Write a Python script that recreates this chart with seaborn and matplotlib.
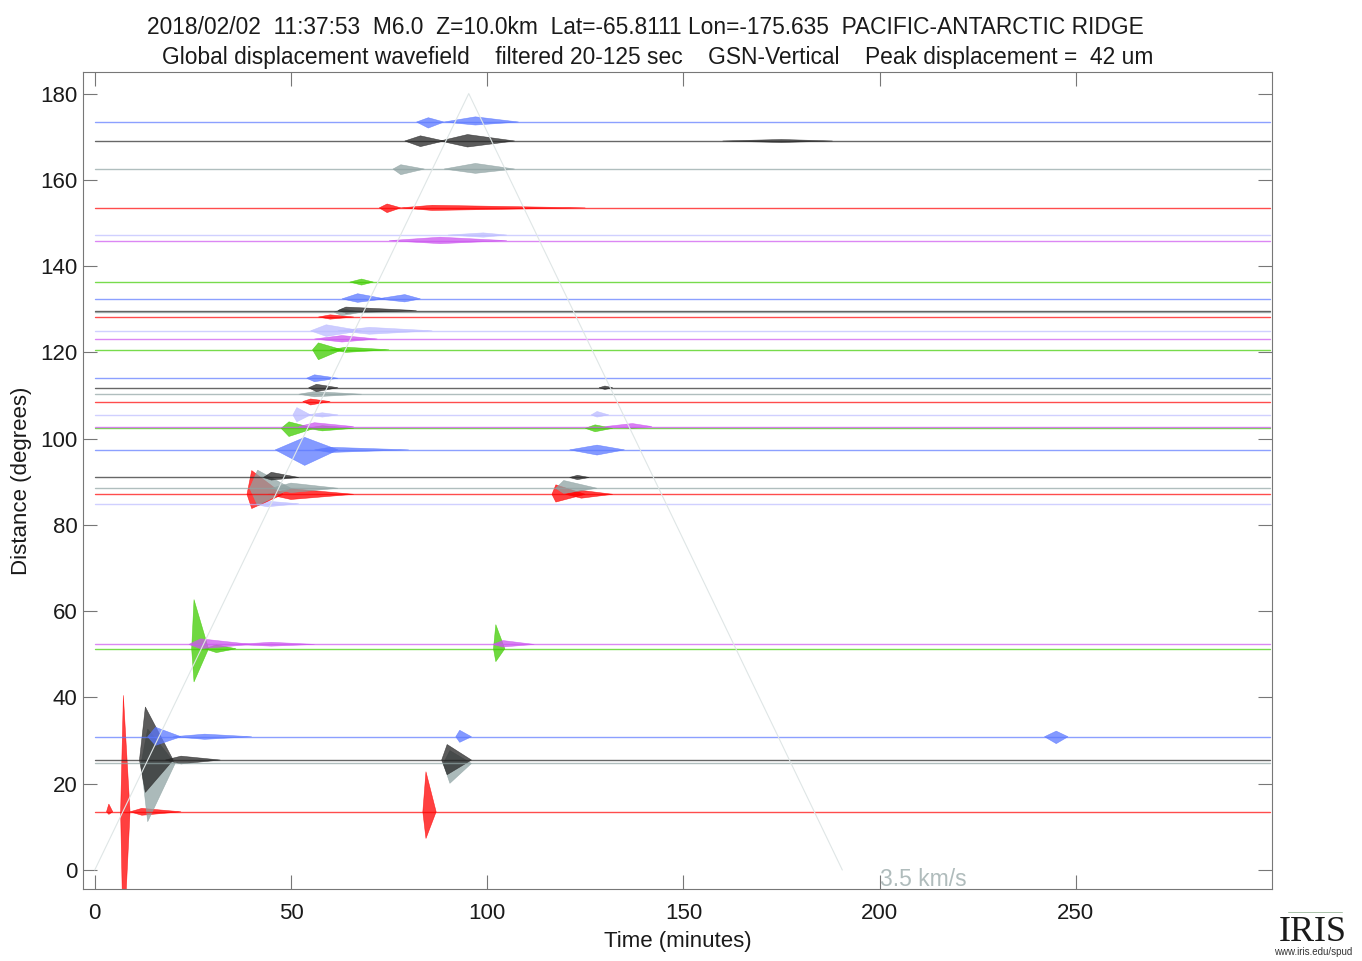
import matplotlib
matplotlib.use("Agg")
import matplotlib.pyplot as plt
import seaborn as sns
import pandas as pd
import numpy as np

# station traces, bottom to top: distance (deg) and colour
trace_dist = [13.5, 24.7, 25.5, 30.9, 51.3, 52.3, 84.9, 87.1, 88.5, 91.0,
              97.4, 102.4, 102.8, 105.5, 108.6, 110.3, 111.8, 114.0, 120.6, 123.1,
              125.0, 128.2, 129.3, 129.7, 132.4, 136.3, 145.9, 147.2, 153.5, 162.5,
              169.0, 173.4]
trace_color = ["red", "grey", "black", "blue", "green", "violet", "lavender", "red",
               "grey", "black", "blue", "green", "violet", "lavender", "red", "grey",
               "black", "blue", "green", "violet", "lavender", "red", "grey", "black",
               "blue", "green", "violet", "lavender", "red", "grey", "black", "blue"]
palette = {"red": "#ff0000", "grey": "#8fa3a3", "black": "#262626", "blue": "#5b78ff",
           "green": "#3fcc00", "violet": "#cc55f0", "lavender": "#bcbcff"}

# wave packets:
# (trace index, start, peak, end [minutes], amplitude up, amplitude down [deg])
packets = [
    (0, 3.0, 3.6, 4.6, 1.8, 0.6),
    (0, 6.6, 7.3, 9.0, 27.0, 32.0),
    (0, 9.0, 12.0, 22.0, 0.8, 0.8),
    (0, 83.6, 84.4, 87.0, 9.3, 6.2),
    (1, 11.8, 13.5, 20.5, 8.0, 13.5),
    (1, 88.8, 90.5, 96.0, 3.0, 4.6),
    (2, 11.4, 12.9, 20.0, 12.3, 7.5),
    (2, 18.0, 22.0, 32.0, 0.9, 0.9),
    (2, 88.4, 89.8, 96.0, 3.6, 3.4),
    (3, 13.5, 15.5, 22.0, 2.2, 2.0),
    (3, 20.0, 28.0, 40.0, 0.6, 0.6),
    (3, 92.0, 93.0, 96.0, 1.5, 1.3),
    (3, 242.0, 245.0, 248.0, 1.3, 1.6),
    (4, 24.7, 25.3, 29.0, 11.4, 7.7),
    (4, 28.0, 31.0, 36.0, 0.9, 0.9),
    (4, 101.6, 102.2, 104.5, 5.6, 3.0),
    (5, 24.0, 27.0, 40.0, 1.3, 1.0),
    (5, 36.0, 45.0, 56.0, 0.5, 0.4),
    (5, 101.5, 104.0, 112.0, 0.9, 0.6),
    (6, 40.0, 44.0, 52.0, 0.6, 0.7),
    (7, 38.8, 40.0, 48.0, 5.5, 3.3),
    (7, 44.0, 50.0, 66.0, 1.3, 1.2),
    (7, 116.5, 117.5, 125.0, 2.2, 1.8),
    (7, 120.0, 124.0, 132.0, 0.9, 0.9),
    (8, 39.5, 41.5, 50.0, 4.2, 4.0),
    (8, 45.0, 50.0, 62.0, 1.2, 1.0),
    (8, 117.5, 119.5, 128.0, 1.8, 1.2),
    (9, 43.0, 45.0, 52.0, 1.2, 0.6),
    (9, 121.0, 123.0, 126.0, 0.5, 0.5),
    (10, 46.0, 53.5, 62.0, 2.9, 3.6),
    (10, 56.0, 60.0, 80.0, 0.6, 0.6),
    (10, 121.0, 128.0, 135.0, 1.1, 1.2),
    (11, 47.5, 49.5, 56.0, 1.5, 1.9),
    (11, 54.0, 58.0, 66.0, 0.6, 0.6),
    (11, 125.0, 127.5, 132.0, 0.8, 0.8),
    (12, 52.0, 56.0, 66.0, 0.9, 0.6),
    (12, 130.0, 137.0, 142.0, 0.7, 0.4),
    (13, 50.5, 51.5, 55.0, 1.7, 1.6),
    (13, 54.0, 58.0, 62.0, 0.5, 0.5),
    (13, 126.5, 128.0, 131.0, 0.8, 0.5),
    (14, 53.0, 55.0, 60.0, 0.6, 0.8),
    (15, 52.0, 56.0, 68.0, 0.6, 0.6),
    (16, 54.5, 56.5, 62.0, 0.8, 0.9),
    (16, 128.5, 130.0, 132.0, 0.4, 0.4),
    (17, 54.0, 56.0, 62.0, 0.8, 0.8),
    (18, 55.5, 57.0, 63.0, 1.6, 2.3),
    (18, 60.0, 64.0, 75.0, 0.6, 0.6),
    (19, 56.0, 63.0, 72.0, 0.8, 0.7),
    (20, 55.0, 59.0, 68.0, 1.4, 1.3),
    (20, 62.0, 70.0, 86.0, 0.8, 0.8),
    (21, 57.0, 60.0, 66.0, 0.5, 0.5),
    (22, 61.0, 63.0, 68.0, 0.8, 0.8),
    (23, 62.0, 64.0, 82.0, 0.8, 0.6),
    (24, 63.0, 67.0, 74.0, 1.2, 0.8),
    (24, 72.0, 79.0, 83.0, 1.0, 0.7),
    (25, 65.0, 68.0, 71.0, 0.7, 0.7),
    (26, 75.0, 88.0, 105.0, 0.8, 0.7),
    (27, 90.0, 99.0, 105.0, 0.5, 0.5),
    (28, 72.5, 74.5, 78.0, 0.9, 1.1),
    (28, 78.0, 86.0, 125.0, 0.6, 0.6),
    (29, 76.0, 78.0, 84.0, 1.0, 1.3),
    (29, 89.0, 97.0, 107.0, 1.3, 1.0),
    (30, 79.0, 83.0, 89.0, 1.2, 1.3),
    (30, 88.0, 95.0, 107.0, 1.5, 1.4),
    (30, 160.0, 175.0, 188.0, 0.35, 0.35),
    (31, 82.0, 85.0, 89.0, 1.0, 1.4),
    (31, 89.0, 97.0, 108.0, 1.2, 0.7),
]

# 3.5 km/s surface-wave guide (time in minutes, distance in degrees)
guide_time = [0.0, 95.3, 190.5]
guide_dist = [0.0, 180.0, 0.0]

x_ticks = [0, 50, 100, 150, 200, 250]
y_ticks = [0, 20, 40, 60, 80, 100, 120, 140, 160, 180]

title_1 = ("2018/02/02  11:37:53  M6.0  Z=10.0km  Lat=-65.8111 Lon=-175.635  "
           "PACIFIC-ANTARCTIC RIDGE")
title_2 = ("Global displacement wavefield    filtered 20-125 sec    GSN-Vertical    "
           "Peak displacement =  42 um")

sns.set_theme(style="ticks")
plt.rcParams["font.family"] = ["Liberation Sans", "DejaVu Sans"]

fig = plt.figure(figsize=(13.62, 9.61), dpi=100)
ax = fig.add_axes([0.0609, 0.0749, 0.8731, 0.8502])

# baselines
base = pd.DataFrame({
    "trace": np.repeat(np.arange(len(trace_dist)), 2),
    "time": np.tile([0.0, 299.5], len(trace_dist)),
    "dist": np.repeat(trace_dist, 2),
})
base["colour"] = [trace_color[i] for i in base["trace"]]
sns.lineplot(data=base, x="time", y="dist", units="trace", hue="colour",
             palette=palette, estimator=None, legend=False, lw=1.0, alpha=0.7,
             ax=ax)

# guide line
sns.lineplot(x=guide_time, y=guide_dist, color="#dfe6e6", lw=0.8, ax=ax,
             sort=False, estimator=None)

# wave packets
for idx, t0, tp, t1, up, down in packets:
    d = trace_dist[idx]
    c = palette[trace_color[idx]]
    ax.fill([t0, tp, t1, tp], [d, d + up, d, d - down], color=c, alpha=0.75,
            lw=0.4, clip_on=True)

ax.text(211, -2.3, "3.5 km/s", color="#b0bcbc", fontsize=16.5, ha="center",
        va="center")

ax.set_xlim(-3, 300)
ax.set_ylim(-4.4, 185)
ax.set_xticks(x_ticks)
ax.set_yticks(y_ticks)
ax.tick_params(direction="in", length=10, width=0.8, colors="#777777",
               labelcolor="#1a1a1a", labelsize=16, top=True, right=True)
ax.tick_params(axis="x", pad=10)
ax.tick_params(axis="y", pad=4)
for s in ax.spines.values():
    s.set_color("#777777")
    s.set_linewidth(0.8)
ax.set_xlabel("Time (minutes)", fontsize=16, color="#1a1a1a", labelpad=5)
ax.set_ylabel("Distance (degrees)", fontsize=16, color="#1a1a1a", labelpad=6)

fig.text(0.4736, 0.971, title_1, ha="center", va="center", fontsize=16.4,
         color="#1a1a1a")
fig.text(0.483, 0.940, title_2, ha="center", va="center", fontsize=16.4,
         color="#1a1a1a")

# IRIS mark
fig.add_artist(plt.Line2D([0.946, 0.985], [0.051, 0.051], color="#a8c0a8",
                          lw=0.7, transform=fig.transFigure))
fig.text(0.964, 0.013, "IRIS", family="Liberation Serif", fontsize=26,
         ha="center", va="bottom", color="#1a1a1a")
fig.text(0.964, 0.004, "www.iris.edu/spud", fontsize=7, ha="center",
         va="bottom", color="#333333")

fig.savefig("out.png", dpi=100)
